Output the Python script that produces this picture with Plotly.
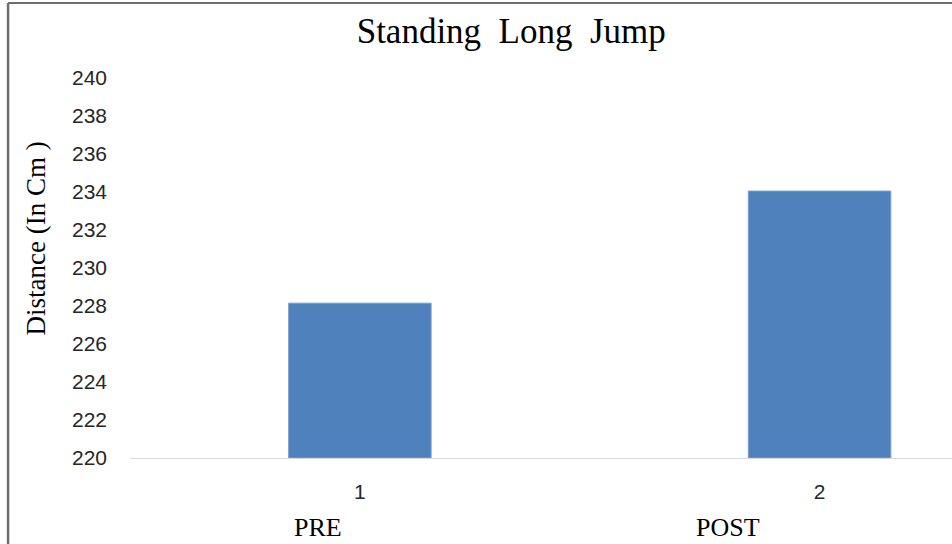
import plotly.graph_objects as go

# Standing long jump means (cm) before and after training
phases = ["PRE", "POST"]
positions = [1, 2]
tick_text = ["1", "2"]
distance_cm = [228.15, 234.05]
y_ticks = list(range(220, 241, 2))

W, H = 952, 544
left, top, bottom = 129.5, 78, 458
plot_w = W - left
plot_h = bottom - top


def px_x(px):
    return (px - left) / plot_w


def px_y(py):
    return (bottom - py) / plot_h


fig = go.Figure()
fig.add_trace(go.Bar(
    x=positions,
    y=[v - 220 for v in distance_cm],
    base=220,
    width=0.31,
    marker=dict(color="#4f81bd", line=dict(color="#7a9fd0", width=1)),
    hoverinfo="skip",
    showlegend=False,
))

serif = "Liberation Serif, Times New Roman, serif"
sans = "Liberation Sans, Arial, sans-serif"

# phase labels under the numeric ticks
phase_x = [0.908, 1.801]
for name, xv in zip(phases, phase_x):
    fig.add_annotation(text=name, x=xv, xref="x", y=px_y(527), yref="paper",
                       showarrow=False, xanchor="center", yanchor="middle",
                       font=dict(family=serif, size=26, color="#000000"))

# rotated y-axis title
fig.add_annotation(text="Distance (In Cm )", textangle=-90,
                   x=px_x(35), xref="paper", y=px_y(239), yref="paper",
                   showarrow=False, xanchor="center", yanchor="middle",
                   font=dict(family=serif, size=27, color="#000000"))

# outer frame (left and top edges)
fig.add_shape(type="line", xref="paper", yref="paper",
              x0=px_x(7.5), x1=px_x(W + 5), y0=px_y(3), y1=px_y(3),
              line=dict(color="#6e6e6e", width=2))
fig.add_shape(type="line", xref="paper", yref="paper",
              x0=px_x(7.5), x1=px_x(7.5), y0=px_y(3), y1=px_y(H + 5),
              line=dict(color="#6e6e6e", width=2.5))

fig.update_layout(
    width=W, height=H,
    margin=dict(l=left, r=0, t=top, b=H - bottom, pad=0),
    paper_bgcolor="white", plot_bgcolor="white",
    title=dict(text="Standing  Long  Jump", x=px_x(511), xref="paper",
               xanchor="center", y=1 - 31 / H, yref="container", yanchor="middle",
               font=dict(family=serif, size=35, color="#000000")),
    xaxis=dict(range=[0.5, 0.5 + plot_w / 460], tickvals=positions, ticktext=tick_text,
               showgrid=False, zeroline=False, showline=True, linecolor="#d9d9d9",
               linewidth=1, ticks="", ticklabelstandoff=15,
               tickfont=dict(family=sans, size=21, color="#262626")),
    yaxis=dict(range=[220, 240], tickvals=y_ticks, showgrid=False, zeroline=False,
               showline=False, ticks="", ticklabelstandoff=22,
               tickfont=dict(family=sans, size=21, color="#262626")),
)

fig.write_html("out.html")
